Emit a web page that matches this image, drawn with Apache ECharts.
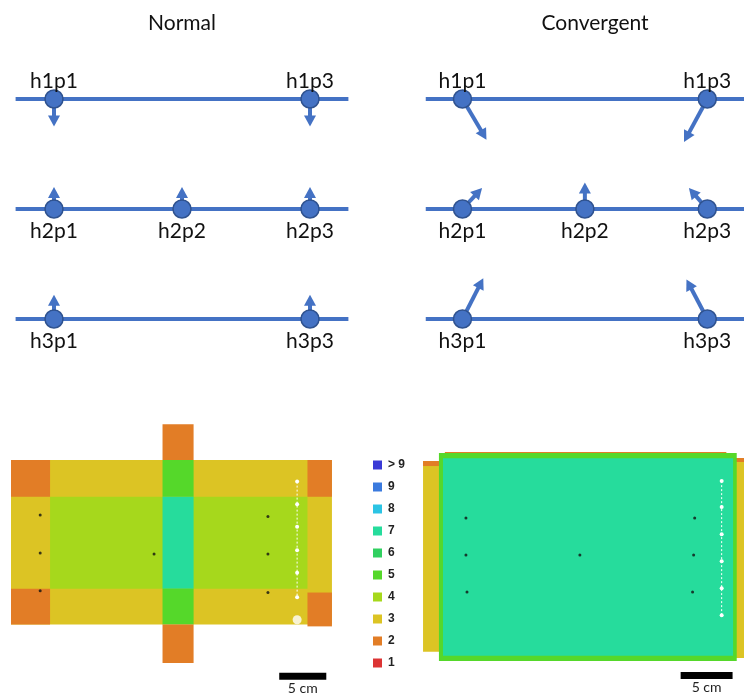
<!DOCTYPE html>
<html>
<head>
<meta charset="utf-8">
<script src="https://cdn.jsdelivr.net/npm/echarts@6/dist/echarts.min.js"></script>
<style>
  html, body { margin: 0; padding: 0; background: #fff; }
  #main { width: 744px; height: 695px; }
</style>
</head>
<body>
<div id="main"></div>
<script>
  // --- schematic: points on each hole line, [position index, hole row, dx, dy] ---
  const holes = ['h1', 'h2', 'h3']
  const positions = ['p1', 'p2', 'p3']
  const normalPoints = [
    [0, 1, 0, 0.25], [2, 1, 0, 0.25],
    [0, 2, 0, -0.2], [1, 2, 0, -0.2], [2, 2, 0, -0.2],
    [0, 3, 0, -0.22], [2, 3, 0, -0.22]
  ]
  const convergentPoints = [
    [0, 1, 0.196, 0.37], [2, 1, -0.19, 0.39],
    [0, 2, 0.16, -0.19], [1, 2, 0, -0.24], [2, 2, -0.15, -0.19],
    [0, 3, 0.17, -0.37], [2, 3, -0.17, -0.36]
  ]

  // --- overlap maps, in cm: [x0, x1, y0, y1, number of images] ---
  const normalZones = [
    [0, 34.1, 0, 17.5, 3],
    [4.15, 31.5, 3.9, 13.7, 4],
    [0, 4.15, 0, 3.9, 2],
    [0, 4.15, 13.7, 17.5, 2],
    [31.5, 34.1, 0, 3.9, 2],
    [31.5, 34.1, 14.1, 17.7, 2],
    [16.1, 19.4, -3.8, 0, 2],
    [16.1, 19.4, 0, 3.9, 5],
    [16.1, 19.4, 3.9, 13.7, 7],
    [16.1, 19.4, 13.7, 17.5, 5],
    [16.1, 19.4, 17.5, 21.6, 2]
  ]
  const convergentZones = [
    [0.1, 1.83, 0.87, 19.2, 3],
    [0.1, 1.83, 0.87, 1.35, 2],
    [30.1, 31.5, 0.58, 19.8, 3],
    [30.1, 31.5, 0.58, 0.96, 2],
    [2.2, 29.3, 0.0, 0.15, 2],
    [1.63, 30.3, 0.1, 20.1, 5],
    [2.02, 29.95, 0.6, 19.6, 7]
  ]
  const normalTargets = [[3.1, 5.85], [3.1, 9.9], [3.1, 13.9], [15.2, 10.0], [27.3, 6.0], [27.3, 10.0], [27.3, 14.1]]
  const normalPins = [[30.4, 2.3], [30.4, 4.7], [30.4, 7.1], [30.4, 9.6], [30.4, 12.0], [30.4, 14.6]]
  const normalHole = [[30.4, 17.0]]
  const convergentTargets = [[4.23, 6.35], [4.23, 9.9], [4.33, 13.46], [15.2, 9.9], [26.25, 6.35], [26.15, 9.9], [26.05, 13.46]]
  const convergentPins = [[28.85, 2.8], [28.85, 5.3], [28.85, 7.9], [28.85, 10.5], [28.85, 13.1], [28.85, 15.7]]
  const normalScaleBar = [[28.5, 23.0, 5]]
  const convergentScaleBar = [[24.9, 21.5, 5]]

  // legend classes (number of overlapping images)
  const classValues = [10, 9, 8, 7, 6, 5, 4, 3, 2, 1]
  const classLabels = ['> 9', '9', '8', '7', '6', '5', '4', '3', '2', '1']
  const classColors = ['#3a3ad6', '#3a7ade', '#2cc4e4', '#26dc9c', '#30d060', '#55d82a', '#a6d81c', '#dcc424', '#e27d26', '#dc3434']

  const BLUE = '#4472c4'
  const FONT = 'Lato'

  const chart = echarts.init(document.getElementById('main'))

  const pointData = (pts) => pts.map(p => ({
    value: [p[0], p[1]],
    name: holes[p[1] - 1] + positions[p[0]],
    label: p[1] === 1 ? { position: 'top', distance: -2 } : { position: 'bottom', distance: 2 }
  }))

  const rowLine = (params, api) => {
    const cs = params.coordSys
    const y = api.coord([0, api.value(1)])[1]
    return { type: 'line', shape: { x1: cs.x, y1: y, x2: cs.x + cs.width, y2: y }, style: { stroke: BLUE, lineWidth: 4 } }
  }

  const arrowItem = (params, api) => {
    const c = api.coord([api.value(0), api.value(1)])
    const t = api.coord([api.value(0) + api.value(2), api.value(1) + api.value(3)])
    const dx = t[0] - c[0], dy = t[1] - c[1]
    const len = Math.hypot(dx, dy)
    const ux = dx / len, uy = dy / len
    const head = 11, half = 6
    const bx = t[0] - ux * head, by = t[1] - uy * head
    return {
      type: 'group',
      children: [
        { type: 'line', shape: { x1: c[0], y1: c[1], x2: bx + ux, y2: by + uy }, style: { stroke: BLUE, lineWidth: 4 } },
        { type: 'polygon', shape: { points: [[t[0], t[1]], [bx - uy * half, by + ux * half], [bx + uy * half, by - ux * half]] }, style: { fill: BLUE } }
      ]
    }
  }

  const zoneItem = (params, api) => {
    const p0 = api.coord([api.value(0), api.value(2)])
    const p1 = api.coord([api.value(1), api.value(3)])
    return {
      type: 'rect',
      shape: { x: p0[0], y: p0[1], width: p1[0] - p0[0], height: p1[1] - p0[1] },
      style: { fill: api.visual('color') }
    }
  }

  const scaleBarItem = (params, api) => {
    const a = api.coord([api.value(0), api.value(1)])
    const b = api.coord([api.value(0) + api.value(2), api.value(1)])
    return {
      type: 'group',
      children: [
        { type: 'rect', shape: { x: a[0], y: a[1] - 3.5, width: b[0] - a[0], height: 7 }, style: { fill: '#000' } },
        { type: 'text', style: { x: (a[0] + b[0]) / 2, y: a[1] + 12, text: api.value(2) + ' cm', font: '14px ' + FONT, fill: '#222', align: 'center', verticalAlign: 'middle' } }
      ]
    }
  }

  const hiddenAxis = (extra) => Object.assign({ type: 'value', show: false, splitLine: { show: false } }, extra)

  const schematicSeries = (idx, pts) => ([
    {
      type: 'custom', xAxisIndex: idx, yAxisIndex: idx, z: 1, silent: true,
      renderItem: rowLine, encode: { x: 0, y: 1 },
      data: holes.map((h, i) => [0, i + 1])
    },
    {
      type: 'custom', xAxisIndex: idx, yAxisIndex: idx, z: 2, silent: true,
      renderItem: arrowItem, encode: { x: 0, y: 1 },
      data: pts
    },
    {
      type: 'scatter', xAxisIndex: idx, yAxisIndex: idx, z: 3, silent: true,
      symbolSize: 18,
      itemStyle: { color: BLUE, borderColor: '#2f528f', borderWidth: 1.5, opacity: 1 },
      label: { show: true, formatter: '{b}', fontFamily: FONT, fontSize: 21, color: '#111' },
      data: pointData(pts)
    }
  ])

  const mapSeries = (idx, zones, targets, pins, bar) => ([
    {
      type: 'custom', xAxisIndex: idx, yAxisIndex: idx, z: 1, silent: true,
      renderItem: zoneItem, encode: { x: [0, 1], y: [2, 3] },
      data: zones
    },
    {
      type: 'line', xAxisIndex: idx, yAxisIndex: idx, z: 2, silent: true,
      symbol: 'circle', symbolSize: 4, showSymbol: true,
      itemStyle: { color: '#fff' },
      lineStyle: { color: '#fff', width: 1, type: [2, 2] },
      data: pins
    },
    {
      type: 'scatter', xAxisIndex: idx, yAxisIndex: idx, z: 3, silent: true,
      symbolSize: 3, itemStyle: { color: '#111' },
      data: targets
    },
    {
      type: 'custom', xAxisIndex: idx, yAxisIndex: idx, z: 3, silent: true,
      renderItem: scaleBarItem, encode: { x: 0, y: 1 },
      data: bar
    }
  ])

  const option = {
    backgroundColor: '#fff',
    animation: false,
    title: [
      { text: 'Normal', left: 177, top: 8, textAlign: 'center', textStyle: { fontFamily: FONT, fontSize: 21, fontWeight: 'normal', color: '#111' } },
      { text: 'Convergent', left: 590, top: 8, textAlign: 'center', textStyle: { fontFamily: FONT, fontSize: 21, fontWeight: 'normal', color: '#111' } }
    ],
    grid: [
      { left: 15.6, top: 44, width: 332.8, height: 330 },
      { left: 425.75, top: 44, width: 331.5, height: 330 },
      { left: 11, top: 422.4, width: 320, height: 263.2 },
      { left: 422, top: 441.6, width: 322.4, height: 249.6 }
    ],
    xAxis: [
      hiddenAxis({ gridIndex: 0, min: -0.3, max: 2.3 }),
      hiddenAxis({ gridIndex: 1, min: -0.3, max: 2.3 }),
      hiddenAxis({ gridIndex: 2, min: 0, max: 34 }),
      hiddenAxis({ gridIndex: 3, min: 0, max: 31 })
    ],
    yAxis: [
      hiddenAxis({ gridIndex: 0, min: 0.5, max: 3.5, inverse: true }),
      hiddenAxis({ gridIndex: 1, min: 0.5, max: 3.5, inverse: true }),
      hiddenAxis({ gridIndex: 2, min: -4, max: 24, inverse: true }),
      hiddenAxis({ gridIndex: 3, min: -1, max: 23, inverse: true })
    ],
    visualMap: {
      type: 'piecewise',
      seriesIndex: [6, 10],
      dimension: 4,
      orient: 'vertical',
      align: 'left',
      left: 358,
      top: 444,
      itemWidth: 9,
      itemHeight: 9,
      itemGap: 10,
      itemSymbol: 'rect',
      textGap: 6,
      selectedMode: false,
      hoverLink: false,
      textStyle: { fontFamily: 'Liberation Sans', fontSize: 12, fontWeight: 'bold', color: '#222' },
      pieces: classValues.map((v, i) => ({ value: v, label: classLabels[i], color: classColors[i] }))
    },
    series: [
      ...schematicSeries(0, normalPoints),
      ...schematicSeries(1, convergentPoints),
      ...mapSeries(2, normalZones, normalTargets, normalPins, normalScaleBar),
      ...mapSeries(3, convergentZones, convergentTargets, convergentPins, convergentScaleBar),
      {
        type: 'scatter', xAxisIndex: 2, yAxisIndex: 2, z: 3, silent: true,
        symbolSize: 9, itemStyle: { color: '#fff' },
        data: normalHole
      }
    ]
  }

  chart.setOption(option)
</script>
</body>
</html>
